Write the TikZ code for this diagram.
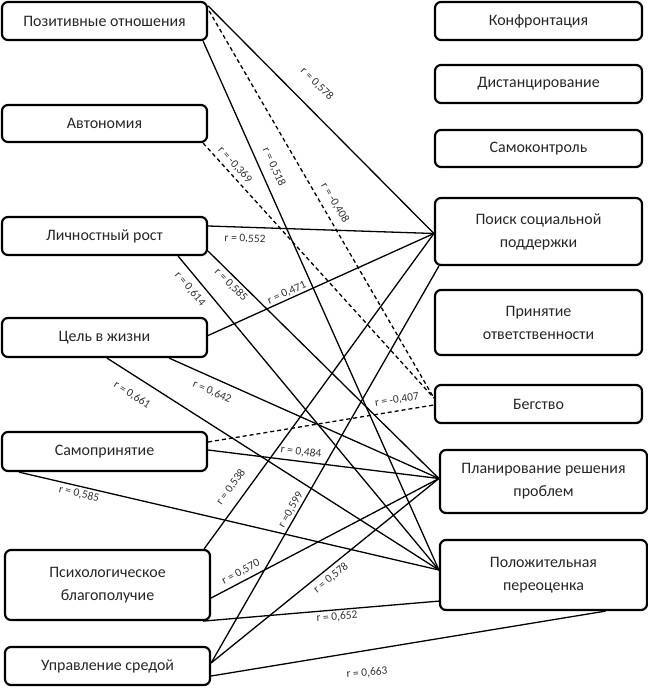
\documentclass[tikz,border=0pt]{standalone}
\usepackage{fontspec}
\setmainfont{Carlito}
\usetikzlibrary{calc}
\begin{document}
\begin{tikzpicture}[x=1bp,y=-1bp,
  box/.style={draw, line width=2.2bp, rounded corners=6bp, inner sep=0pt, align=center,
    font=\fontsize{16}{23}\selectfont, text=black!85},
  lw/.style={minimum width=205bp},
  rw/.style={minimum width=207bp},
  link/.style={line width=1.3bp},
  neg/.style={link, dash pattern=on 4bp off 3bp},
  lab/.style={font=\fontsize{11.5}{12}\selectfont, text=black!80, inner sep=0pt}
]
\path[use as bounding box] (0,0) rectangle (648,694);

% left column
\node[box, lw, minimum height=38bp] (po) at (104.5,21) {Позитивные отношения};
\node[box, lw, minimum height=37bp] (av) at (104.5,123.5) {Автономия};
\node[box, lw, minimum height=38bp] (lr) at (104.5,236) {Личностный рост};
\node[box, lw, minimum height=39bp] (cz) at (104.5,337.5) {Цель в жизни};
\node[box, lw, minimum height=39bp] (sp) at (104.5,451.5) {Самопринятие};
\node[box, lw, minimum height=70bp] (pb) at (107.5,585) {Психологическое\\благополучие};
\node[box, lw, minimum height=38bp] (us) at (107.5,666) {Управление средой};

% right column
\node[box, rw, minimum height=38bp] (kf) at (538.5,21) {Конфронтация};
\node[box, rw, minimum height=38bp] (ds) at (538.5,84) {Дистанцирование};
\node[box, rw, minimum height=37bp] (sk) at (538.5,148.5) {Самоконтроль};
\node[box, rw, minimum height=67bp] (ps) at (538.5,231.5) {Поиск социальной\\поддержки};
\node[box, rw, minimum height=65bp] (pr) at (538.5,322.5) {Принятие\\ответственности};
\node[box, rw, minimum height=38bp] (bg) at (538.5,404) {Бегство};
\node[box, rw, minimum height=63bp] (pl) at (543.5,481.5) {Планирование решения\\проблем};
\node[box, rw, minimum height=70bp] (pp) at (543.5,575) {Положительная\\переоценка};

% connectors
\draw[link] ($(po.north east)+(0,5)$) -- ($(ps.west)+(0,2)$);
\draw[neg]  ($(po.north east)+(1,10)$) -- ($(bg.west)+(0,-6)$);
\draw[link] ($(po.south east)+(-5,0)$) -- ($(pp.west)+(0,-5)$);
\draw[neg]  ($(av.south east)+(-5,0)$) -- ($(bg.west)+(0,-6)$);
\draw[link] ($(lr.east)+(0,-10)$) -- ($(ps.west)+(0,2)$);
\draw[link] ($(lr.south east)+(0,-5)$) -- ($(pl.west)+(0,-3)$);
\draw[link] ($(lr.south east)+(-30,0)$) -- ($(pp.west)+(0,-5)$);
\draw[link] ($(cz.east)+(0,-2)$) -- ($(ps.west)+(0,2)$);
\draw[link] ($(cz.south east)+(-39,0)$) -- ($(pl.west)+(0,-3)$);
\draw[link] ($(cz.south)+(2.5,0)$) -- ($(pp.west)+(0,-5)$);
\draw[neg]  ($(sp.east)+(0,-9.5)$) -- ($(bg.west)+(0,1)$);
\draw[link] ($(sp.east)+(0,-1.5)$) -- ($(pl.west)+(0,-3)$);
\draw[link] ($(sp.south west)+(18,0)$) -- ($(pp.west)+(0,-5)$);
\draw[link] ($(pb.north east)+(-7,0)$) -- ($(ps.west)+(0,2)$);
\draw[link] ($(pb.east)+(0,13)$) -- ($(pl.west)+(0,-3)$);
\draw[link] ($(pb.south east)+(-8,0)$) -- ($(pp.south west)+(0,-10)$);
\draw[link] ($(us.east)+(0,-3)$) -- ($(ps.south west)+(5,0)$);
\draw[link] ($(us.east)+(0,-3)$) -- ($(pl.west)+(0,-3)$);
\draw[link] ($(us.east)+(0,10)$) -- ($(pp.south)+(62,0)$);

% labels
\node[lab, rotate=-44.7] (t1) at (317,84) {r = 0,578};
\node[lab, rotate=-59.5] (t2) at (335,203) {r = -0,408};
\node[lab, rotate=-65.8] (t3) at (274,167) {r = 0,518};
\node[lab, rotate=-47.7] (t4) at (235,165) {r = -0,369};
\node[lab, rotate=-2] (t5) at (245,239) {r = 0,552};
\node[lab, rotate=-44.5] (t6) at (231,285) {r = 0,585};
\node[lab, rotate=-50.1] (t7) at (190,289) {r = 0,614};
\node[lab, rotate=23.9] (t8) at (287,293) {r = 0,471};
\node[lab, rotate=-24] (t9) at (212,392) {r = 0,642};
\node[lab, rotate=-32.6] (t10) at (132,395) {r = 0,661};
\node[lab, rotate=9.3] (t11) at (397,400) {r = -0,407};
\node[lab, rotate=-6.9] (t12) at (301,452) {r = 0,484};
\node[lab, rotate=-13.1] (t13) at (79,494) {r = 0,585};
\node[lab, rotate=53.7] (t14) at (231,487) {r = 0,538};
\node[lab, rotate=27.6] (t15) at (241,572) {r = 0,570};
\node[lab, rotate=4.8] (t16) at (337,617) {r = 0,652};
\node[lab, rotate=60] (t17) at (291,510) {r =0,599};
\node[lab, rotate=38.8] (t18) at (331,578) {r = 0,578};
\node[lab, rotate=5] (t19) at (367,673) {r = 0,663};
\end{tikzpicture}
\end{document}
